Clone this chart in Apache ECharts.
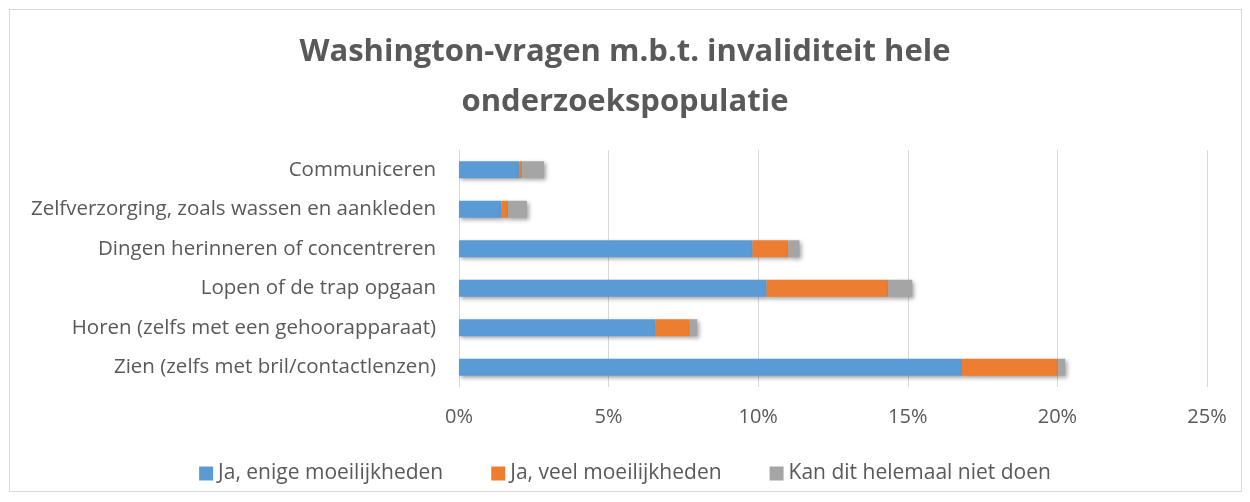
<!DOCTYPE html>
<html>
<head>
<meta charset="utf-8">
<script src="https://cdn.jsdelivr.net/npm/echarts@6/dist/echarts.min.js"></script>
<style>
  html, body { margin: 0; padding: 0; background: #fff; }
  #frame { position: absolute; left: 9px; top: 9px; width: 1231px; height: 481px; border: 1px solid #d9d9d9; }
  #chart { width: 1250px; height: 502px; }
</style>
</head>
<body>
<div id="frame"></div>
<div id="chart"></div>
<script>
// categories bottom to top (as ECharts category axis draws them)
const categories = [
  'Zien (zelfs met bril/contactlenzen)',
  'Horen (zelfs met een gehoorapparaat)',
  'Lopen of de trap opgaan',
  'Dingen herinneren of concentreren',
  'Zelfverzorging, zoals wassen en aankleden',
  'Communiceren'
]
const seriesNames = ['Ja, enige moeilijkheden', 'Ja, veel moeilijkheden', 'Kan dit helemaal niet doen']
const enige = [16.81, 6.57, 10.28, 9.81, 1.42, 2.02]
const veel = [3.21, 1.14, 4.06, 1.20, 0.22, 0.09]
const kanNiet = [0.24, 0.25, 0.81, 0.37, 0.63, 0.73]
const colors = ['#5b9bd5', '#ed7d31', '#a5a5a5']

const txt = '#595959'
const font = 'Open Sans'

function barSeries(name, data, color) {
  return {
    name: name,
    type: 'bar',
    stack: 'total',
    barWidth: 17,
    data: data,
    itemStyle: {
      color: color,
      shadowColor: 'rgba(0,0,0,0.35)',
      shadowBlur: 4,
      shadowOffsetX: 2,
      shadowOffsetY: 2
    }
  }
}

const chart = echarts.init(document.getElementById('chart'))
chart.setOption({
  animation: false,
  color: colors,
  title: {
    text: 'Washington-vragen m.b.t. invaliditeit hele\nonderzoekspopulatie',
    left: 'center',
    top: 22,
    textStyle: { color: txt, fontFamily: font, fontSize: 31, fontWeight: 'bold', lineHeight: 50 }
  },
  legend: {
    top: 458,
    left: 'center',
    itemWidth: 14,
    itemHeight: 14,
    itemGap: 48,
    icon: 'rect',
    textStyle: { color: txt, fontFamily: font, fontSize: 21 },
    data: seriesNames
  },
  grid: { left: 459, right: 43, top: 150, bottom: 115 },
  xAxis: {
    type: 'value',
    min: 0,
    max: 25,
    interval: 5,
    axisLabel: { formatter: '{value}%', color: txt, fontFamily: font, fontSize: 20, margin: 20 },
    splitLine: { lineStyle: { color: '#d9d9d9', width: 1 } },
    axisLine: { show: false },
    axisTick: { show: false }
  },
  yAxis: {
    type: 'category',
    data: categories,
    axisLabel: { color: txt, fontFamily: font, fontSize: 20.5, margin: 23 },
    axisLine: { show: true, lineStyle: { color: '#d9d9d9' } },
    axisTick: { show: false }
  },
  series: [
    barSeries(seriesNames[0], enige, colors[0]),
    barSeries(seriesNames[1], veel, colors[1]),
    barSeries(seriesNames[2], kanNiet, colors[2])
  ]
})
</script>
</body>
</html>
